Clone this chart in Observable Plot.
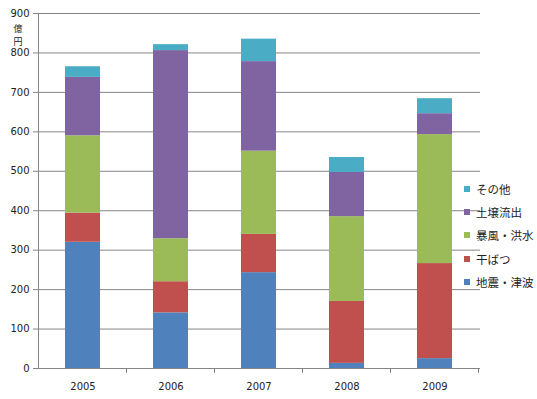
<!DOCTYPE html>
<html><head><meta charset="utf-8">
<script src="https://cdn.jsdelivr.net/npm/d3@7"></script>
<script src="https://cdn.jsdelivr.net/npm/@observablehq/plot@0.6"></script>
<style>
body{margin:0;background:#fff;}
#c{position:relative;width:537px;height:399px;overflow:hidden;}
#c svg{position:absolute;left:0;top:0;}
#legend{position:absolute;left:464px;top:177px;font-family:"Noto Sans CJK JP",sans-serif;font-size:11.5px;color:#222;}
#legend .it{display:flex;align-items:center;height:23.3px;}
#legend .sw{width:6px;height:6px;margin-right:6px;flex:none;}
</style>
</head><body><div id="c"></div>
<script>
const years = ["2005","2006","2007","2008","2009"];
const categories = ["地震・津波","干ばつ","暴風・洪水","土壌流出","その他"];
const quake   = [320,141,243,13,25];
const drought = [74,79,97,157,241];
const storm   = [196,109,211,215,327];
const soil    = [148,477,227,112,53];
const other   = [27,15,57,38,38];
const colors = ["#4F81BD","#C0504D","#9BBB59","#8064A2","#4BACC6"];
const yTicks = [0,100,200,300,400,500,600,700,800,900];
const unitLabel = "億\n円";

const series = [quake,drought,storm,soil,other];
const data = years.flatMap((y,i)=>categories.map((c,j)=>({year:y,cat:c,value:series[j][i]})));

const plot = Plot.plot({
  width:537, height:399,
  marginLeft:38, marginRight:57, marginTop:13, marginBottom:31,
  style:{fontFamily:"DejaVu Sans, sans-serif", fontSize:"10px", color:"#222", background:"#fff"},
  x:{domain:years, paddingInner:0.6, paddingOuter:0.3, label:null},
  y:{domain:[0,900], label:null},
  color:{domain:categories, range:colors},
  marks:[
    Plot.ruleY(yTicks,{stroke:"#868686", strokeWidth:1}),
    Plot.barY(data,{x:"year", y:"value", fill:"cat"}),
    Plot.frame({anchor:"left", stroke:"#868686"}),
    Plot.ruleY([0],{stroke:"#868686"}),
    Plot.axisY({ticks:yTicks, tickSize:5, stroke:"#868686", text:null, label:null}),
    Plot.axisY({ticks:yTicks, tickSize:0, tickPadding:9, fill:"#222", label:null}),
    Plot.axisX({tickSize:0, tickPadding:14, fill:"#222", label:null}),
    Plot.text([unitLabel],{frameAnchor:"top-left", dx:-25, dy:9.2, lineAnchor:"top", fontSize:9, lineHeight:1.45, fill:"#222", fontFamily:"Noto Sans CJK JP"})
  ]
});
document.getElementById("c").appendChild(plot);

// x-axis tick marks at the category boundaries, from the band scale
const sx = plot.scale("x");
const step = sx.step !== undefined ? sx.step : sx.bandwidth/(1-0.6);
const bounds = years.map(y => sx.apply(y) + sx.bandwidth/2 + step/2);
const sy = plot.scale("y");
const y0 = sy.apply(0);
d3.select(plot).append("g").selectAll("line").data(bounds).join("line")
  .attr("x1",d=>d).attr("x2",d=>d).attr("y1",y0).attr("y2",y0+5)
  .attr("stroke","#868686");

// legend
const lg = document.createElement("div");
lg.id = "legend";
categories.slice().reverse().forEach(c=>{
  const it = document.createElement("div"); it.className="it";
  const sw = document.createElement("span"); sw.className="sw";
  sw.style.background = colors[categories.indexOf(c)];
  const t = document.createElement("span"); t.textContent = c;
  it.appendChild(sw); it.appendChild(t); lg.appendChild(it);
});
document.getElementById("c").appendChild(lg);
</script>
</body></html>
